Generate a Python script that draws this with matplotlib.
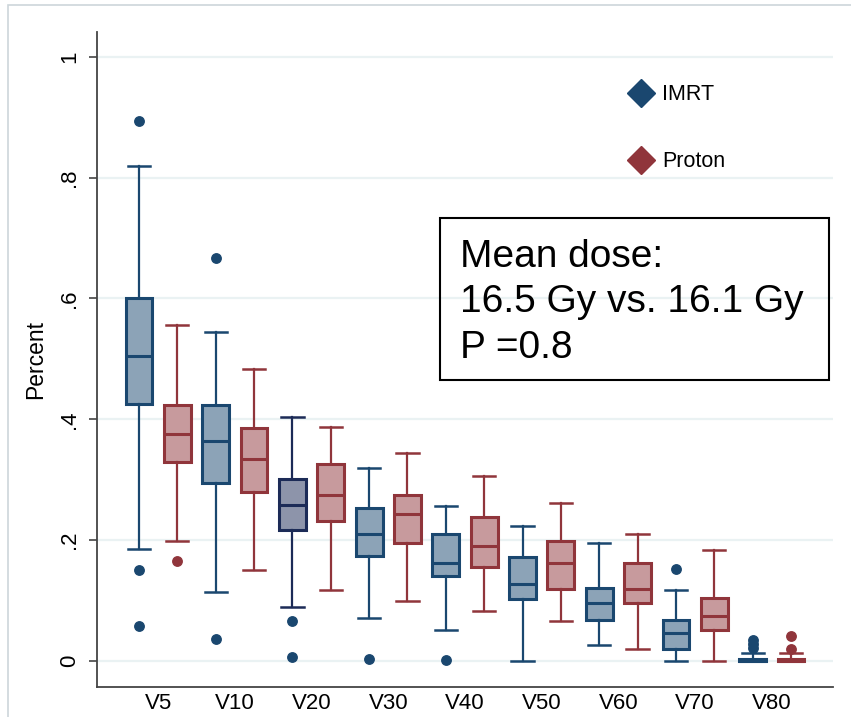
import matplotlib
matplotlib.use("Agg")
import matplotlib.pyplot as plt
from matplotlib.patches import Rectangle
from matplotlib.lines import Line2D

plt.rcParams["font.family"] = ["Liberation Sans", "DejaVu Sans"]

categories = ["V5", "V10", "V20", "V30", "V40", "V50", "V60", "V70", "V80"]
yticks = [0, 0.2, 0.4, 0.6, 0.8, 1.0]
ytick_labels = ["0", ".2", ".4", ".6", ".8", "1"]

# IMRT five-number summaries and outliers
imrt_whislo = [0.185, 0.115, 0.089, 0.072, 0.052, 0.000, 0.026, 0.000, 0.000]
imrt_q1 = [0.425, 0.295, 0.217, 0.174, 0.140, 0.102, 0.068, 0.020, 0.000]
imrt_med = [0.505, 0.364, 0.258, 0.210, 0.163, 0.128, 0.096, 0.047, 0.000]
imrt_q3 = [0.601, 0.423, 0.302, 0.254, 0.210, 0.172, 0.121, 0.068, 0.004]
imrt_whishi = [0.820, 0.545, 0.404, 0.320, 0.256, 0.223, 0.195, 0.117, 0.013]
imrt_fliers = [[0.894, 0.150, 0.058], [0.667, 0.036], [0.067, 0.007], [0.003],
               [0.001], [], [], [0.152], [0.022, 0.028, 0.035]]

# Proton five-number summaries and outliers
proton_whislo = [0.199, 0.151, 0.117, 0.100, 0.082, 0.067, 0.020, 0.000, 0.000]
proton_q1 = [0.329, 0.280, 0.231, 0.195, 0.155, 0.119, 0.096, 0.051, 0.000]
proton_med = [0.376, 0.335, 0.275, 0.243, 0.191, 0.162, 0.119, 0.075, 0.000]
proton_q3 = [0.424, 0.385, 0.326, 0.275, 0.238, 0.199, 0.162, 0.104, 0.004]
proton_whishi = [0.556, 0.484, 0.387, 0.345, 0.307, 0.262, 0.210, 0.184, 0.014]
proton_fliers = [[0.166], [], [], [], [], [], [], [], [0.020, 0.041]]

series_names = ["IMRT", "Proton"]
annotation = ["Mean dose:", "16.5 Gy vs. 16.1 Gy", "P =0.8"]

NAVY, NAVY_FILL = "#1a476f", "#8ca3b7"
DKNAVY, DKNAVY_FILL = "#1c2b57", "#8d94aa"
MAROON, MAROON_FILL = "#90353b", "#c79a9d"


def stats(whislo, q1, med, q3, whishi, fliers):
    return [dict(whislo=a, q1=b, med=c, q3=d, whishi=e, fliers=f)
            for a, b, c, d, e, f in zip(whislo, q1, med, q3, whishi, fliers)]


fig = plt.figure(figsize=(8.51, 7.17), dpi=100)
ax = fig.add_axes([97 / 851, 1 - 687 / 717, (833 - 97) / 851, (687 - 32) / 717])

n = len(categories)
pos_imrt = [2 * i + 1 for i in range(n)]
pos_proton = [2 * i + 2 for i in range(n)]


def draw(st, positions, edges, fills):
    out = ax.bxp(st, positions=positions, widths=0.70, capwidths=0.58,
                 patch_artist=True, showfliers=True, zorder=3)
    for i in range(len(positions)):
        ec, fc = edges[i], fills[i]
        out["boxes"][i].set(facecolor=fc, edgecolor=ec, linewidth=2.2)
        out["medians"][i].set(color=ec, linewidth=2.2)
        for k in (2 * i, 2 * i + 1):
            out["whiskers"][k].set(color=ec, linewidth=1.6)
            out["caps"][k].set(color=ec, linewidth=1.8)
    return out


imrt_edges = [DKNAVY if c == "V20" else NAVY for c in categories]
imrt_fills = [DKNAVY_FILL if c == "V20" else NAVY_FILL for c in categories]
o1 = draw(stats(imrt_whislo, imrt_q1, imrt_med, imrt_q3, imrt_whishi, imrt_fliers),
          pos_imrt, imrt_edges, imrt_fills)
for f in o1["fliers"]:
    f.set(marker="o", markerfacecolor=NAVY, markeredgecolor=NAVY, markersize=6.8)

o2 = draw(stats(proton_whislo, proton_q1, proton_med, proton_q3, proton_whishi, proton_fliers),
          pos_proton, [MAROON] * n, [MAROON_FILL] * n)
for f in o2["fliers"]:
    f.set(marker="o", markerfacecolor=MAROON, markeredgecolor=MAROON, markersize=6.8)

ax.set_xlim(-0.095, 19.095)
ax.set_ylim(-0.043, 1.041)

ax.set_xticks([p + 0.5 for p in pos_imrt])
ax.set_xticklabels(categories, fontsize=16)
ax.tick_params(axis="x", length=0, pad=4)

ax.set_yticks(yticks)
ax.set_yticklabels(ytick_labels, fontsize=16, rotation=90, va="center")
ax.tick_params(axis="y", length=6, width=1.2, color="#444444", pad=6)

ax.set_ylabel("Percent", fontsize=16.5)
ax.yaxis.set_label_coords(-0.068, 0.5)

for side in ("top", "right"):
    ax.spines[side].set_visible(False)
for side in ("left", "bottom"):
    ax.spines[side].set_color("#444444")
    ax.spines[side].set_linewidth(1.3)

ax.grid(axis="y", color="#eaf2f3", linewidth=1.6, zorder=0)
ax.set_axisbelow(True)

handles = [Line2D([], [], linestyle="none", marker="D", markersize=14,
                  markerfacecolor=NAVY, markeredgecolor=NAVY),
           Line2D([], [], linestyle="none", marker="D", markersize=14,
                  markerfacecolor=MAROON, markeredgecolor=MAROON)]
ax.legend(handles, series_names, loc="upper left", bbox_to_anchor=(0.692, 0.95),
          frameon=False, fontsize=15.5, labelspacing=2.15, handletextpad=0.3,
          handlelength=1.4)

# annotation box
ax.add_patch(Rectangle((0.466, 0.469), 0.9946 - 0.466, 0.716 - 0.469,
                       transform=ax.transAxes, fill=False, edgecolor="black",
                       linewidth=1.5, zorder=4))
for txt, yb in zip(annotation, [0.641, 0.5725, 0.502]):
    ax.text(0.493, yb, txt, transform=ax.transAxes, fontsize=28,
            va="baseline", ha="left", zorder=5)

# outer frame of the graph region
fig.patches.append(Rectangle((8 / 851, -0.5), 2.0, 0.5 + 1 - 5 / 717,
                             transform=fig.transFigure, fill=False,
                             edgecolor="#cdd6da", linewidth=1.2))

fig.savefig("out.png", dpi=100)
